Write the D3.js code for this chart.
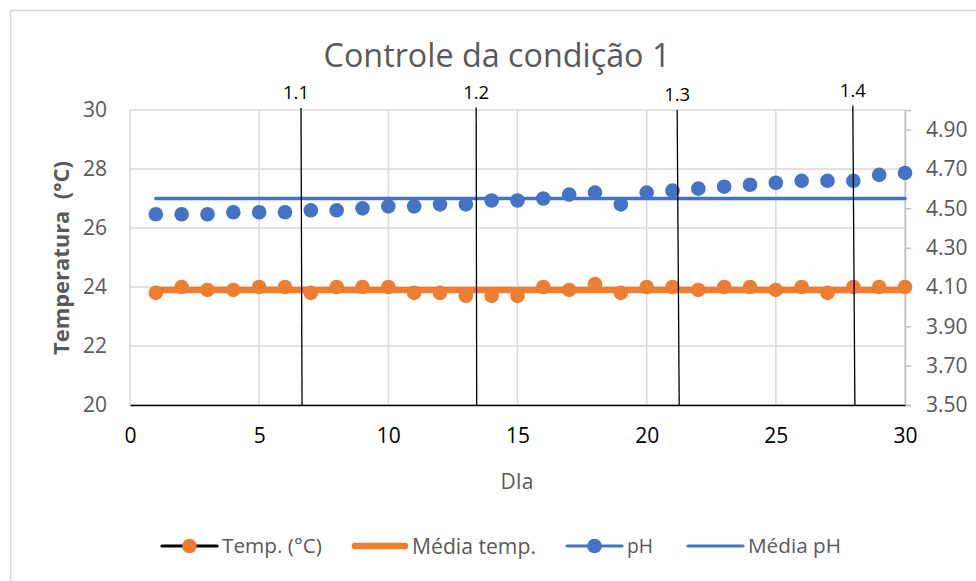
<!DOCTYPE html>
<html>
<head>
<meta charset="utf-8">
<title>Controle da condição 1</title>
<script src="https://cdn.jsdelivr.net/npm/d3@7"></script>
<style>
  body { margin: 0; background: #fff; }
  text { font-family: "Open Sans", "Noto Sans", sans-serif; }
</style>
</head>
<body>
<script>
// dados
var dias = d3.range(1, 31);
var temp = [23.8, 24.0, 23.9, 23.9, 24.0, 24.0, 23.8, 24.0, 24.0, 24.0,
            23.8, 23.8, 23.7, 23.7, 23.7, 24.0, 23.9, 24.1, 23.8, 24.0,
            24.0, 23.9, 24.0, 24.0, 23.9, 24.0, 23.8, 24.0, 24.0, 24.0];
var ph = [4.47, 4.47, 4.47, 4.48, 4.48, 4.48, 4.49, 4.49, 4.50, 4.51,
          4.51, 4.52, 4.52, 4.54, 4.54, 4.55, 4.57, 4.58, 4.52, 4.58,
          4.59, 4.60, 4.61, 4.62, 4.63, 4.64, 4.64, 4.64, 4.67, 4.68];
var mediaTemp = 23.9;
var mediaPh = 4.55;

// linhas verticais desenhadas à mão (posição em dias, topo e base)
var marcas = ['1.1', '1.2', '1.3', '1.4'];
var marcaTopo = [6.62, 13.40, 21.18, 27.98];
var marcaBase = [6.66, 13.42, 21.26, 28.06];

var xTicks = [0, 5, 10, 15, 20, 25, 30];
var tempTicks = [20, 22, 24, 26, 28, 30];
var phTicks = [3.5, 3.7, 3.9, 4.1, 4.3, 4.5, 4.7, 4.9];

var legenda = ['Temp. (°C)', 'Média temp.', 'pH', 'Média pH'];

var laranja = '#ED7D31', azul = '#4472C4', cinza = '#595959', grade = '#d9d9d9';

var svg = d3.select('body').append('svg')
    .attr('width', 976)
    .attr('height', 581);

svg.append('rect').attr('width', 976).attr('height', 581).attr('fill', '#fff');
svg.append('rect')
    .attr('x', 10.5).attr('y', 10.5)
    .attr('width', 1000).attr('height', 1000)
    .attr('fill', 'none').attr('stroke', grade).attr('stroke-width', 1.5);

var x = d3.scaleLinear().domain([0, 30]).range([130, 905]);
var yT = d3.scaleLinear().domain([20, 30]).range([405, 110]);
var yP = d3.scaleLinear().domain([3.5, 5.0]).range([405, 110]);

// ajusta o tamanho da fonte para uma largura alvo
function ajusta(sel, largura) {
    sel.each(function () {
        var s = parseFloat(this.getAttribute('font-size'));
        var w = this.getComputedTextLength();
        this.setAttribute('font-size', (s * largura / w).toFixed(2));
    });
}

// grade
svg.append('g').selectAll('line').data(tempTicks).join('line')
    .attr('x1', x(0)).attr('x2', x(30))
    .attr('y1', function (d) { return yT(d); })
    .attr('y2', function (d) { return yT(d); })
    .attr('stroke', grade).attr('stroke-width', 1.5);
svg.append('g').selectAll('line').data(xTicks).join('line')
    .attr('x1', function (d) { return x(d); })
    .attr('x2', function (d) { return x(d); })
    .attr('y1', yT(30)).attr('y2', yT(20))
    .attr('stroke', grade).attr('stroke-width', 1.5);

// eixo direito (pH)
var eixoDir = svg.append('g')
    .attr('transform', 'translate(' + x(30) + ',0)')
    .call(d3.axisRight(yP).tickValues(phTicks).tickFormat(d3.format('.2f')).tickSize(6).tickPadding(15));
eixoDir.select('.domain').attr('stroke', '#bfbfbf').attr('stroke-width', 1.5);
eixoDir.selectAll('.tick line').attr('stroke', '#bfbfbf').attr('stroke-width', 1.5);
eixoDir.selectAll('.tick text')
    .attr('fill', cinza).attr('font-size', 21).attr('font-family', null);

// eixo esquerdo (temperatura)
var eixoEsq = svg.append('g')
    .attr('transform', 'translate(' + x(0) + ',0)')
    .call(d3.axisLeft(yT).tickValues(tempTicks).tickSize(0).tickPadding(23));
eixoEsq.select('.domain').remove();
eixoEsq.selectAll('.tick text')
    .attr('fill', cinza).attr('font-size', 21).attr('font-family', null);

// eixo x
var eixoX = svg.append('g')
    .attr('transform', 'translate(0,' + yT(20) + ')')
    .call(d3.axisBottom(x).tickValues(xTicks).tickSize(0).tickPadding(23));
eixoX.select('.domain').attr('stroke', '#000').attr('stroke-width', 1.5);
eixoX.selectAll('.tick text')
    .attr('fill', '#000').attr('font-size', 21).attr('font-family', null);

// séries
svg.append('line')
    .attr('x1', x(1)).attr('x2', x(30))
    .attr('y1', yP(mediaPh)).attr('y2', yP(mediaPh))
    .attr('stroke', azul).attr('stroke-width', 3.5).attr('stroke-linecap', 'round');
svg.append('g').selectAll('circle').data(ph).join('circle')
    .attr('cx', function (d, i) { return x(dias[i]); })
    .attr('cy', function (d) { return yP(d); })
    .attr('r', 7.3).attr('fill', azul);

svg.append('line')
    .attr('x1', x(1)).attr('x2', x(30))
    .attr('y1', yT(mediaTemp)).attr('y2', yT(mediaTemp))
    .attr('stroke', laranja).attr('stroke-width', 6.5).attr('stroke-linecap', 'round');
svg.append('g').selectAll('circle').data(temp).join('circle')
    .attr('cx', function (d, i) { return x(dias[i]); })
    .attr('cy', function (d) { return yT(d); })
    .attr('r', 7.3).attr('fill', laranja);

// marcas verticais 1.1 ... 1.4
var alturaRotulo = [99, 98.5, 101, 96.5];
var m = svg.append('g').selectAll('g').data(marcas).join('g');
m.append('line')
    .attr('x1', function (d, i) { return x(marcaTopo[i]); })
    .attr('x2', function (d, i) { return x(marcaBase[i]); })
    .attr('y1', function (d, i) { return alturaRotulo[i] + 9; })
    .attr('y2', yT(20) + 1)
    .attr('stroke', '#000').attr('stroke-width', 1.3);
m.append('text')
    .attr('x', function (d, i) { return x(marcaTopo[i]) - (i === 0 ? 5 : 0); })
    .attr('y', function (d, i) { return alturaRotulo[i]; })
    .attr('text-anchor', 'middle')
    .attr('font-size', 18).attr('fill', '#000')
    .text(function (d) { return d; })
    .call(ajusta, 26);

// títulos
svg.append('text')
    .attr('x', 497).attr('y', 67)
    .attr('text-anchor', 'middle')
    .attr('font-size', 32).attr('fill', cinza)
    .text('Controle da condição 1')
    .call(ajusta, 347);

svg.append('text')
    .attr('transform', 'translate(69,258) rotate(-90)')
    .attr('text-anchor', 'middle')
    .attr('font-size', 21).attr('font-weight', 'bold').attr('fill', cinza)
    .text('Temperatura  (°C)')
    .attr('xml:space', 'preserve')
    .call(ajusta, 194);

svg.append('text')
    .attr('x', 517).attr('y', 489)
    .attr('text-anchor', 'middle')
    .attr('font-size', 21).attr('fill', cinza)
    .text('DIa');

// legenda
var ly = 546;
var lx = [162, 352, 567, 688];
var tamTexto = [100, 124, 26, 93];
var lg = svg.append('g').selectAll('g').data(legenda).join('g')
    .attr('transform', function (d, i) { return 'translate(' + lx[i] + ',' + ly + ')'; });
lg.append('line')
    .attr('x1', function (d, i) { return i === 1 ? 3 : 0; })
    .attr('x2', function (d, i) { return i === 1 ? 53 : 55; })
    .attr('stroke', function (d, i) { return i === 0 ? '#000' : (i === 1 ? laranja : azul); })
    .attr('stroke-width', function (d, i) { return i === 1 ? 6.5 : 3.2; })
    .attr('stroke-linecap', 'round');
lg.filter(function (d, i) { return i === 0 || i === 2; }).append('circle')
    .attr('cx', 27.5).attr('r', 7.3)
    .attr('fill', function (d) { return d === 'pH' ? azul : laranja; });
lg.append('text')
    .attr('x', 60).attr('dy', '0.36em')
    .attr('font-size', 21).attr('fill', cinza)
    .text(function (d) { return d; })
    .each(function (d, i) { d3.select(this).call(ajusta, tamTexto[i]); });
</script>
</body>
</html>
